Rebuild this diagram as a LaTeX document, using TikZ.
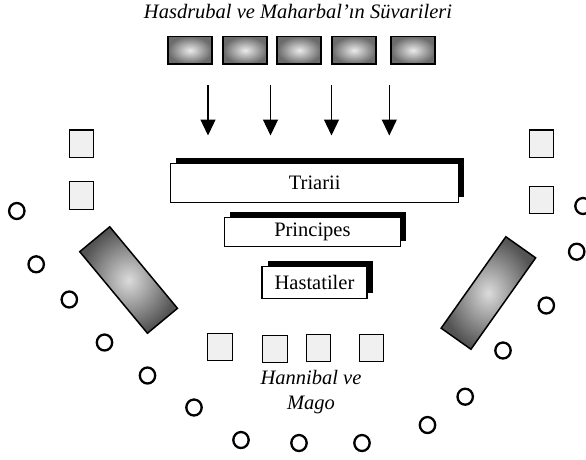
\documentclass[tikz,border=0pt]{standalone}
\usepackage{fontspec}
\setmainfont{Liberation Serif}
\usetikzlibrary{arrows.meta,shadows,shapes.geometric}
\definecolor{cavlight}{gray}{0.92}
\definecolor{cavdark}{gray}{0.42}
\definecolor{winglight}{gray}{0.86}
\definecolor{wingdark}{gray}{0.33}
\definecolor{sqgray}{gray}{0.94}
\newcommand{\bigtext}{\fontsize{20.5}{25}\selectfont}
\begin{document}
\begin{tikzpicture}[x=1pt,y=-1pt,
    every node/.style={font=\bigtext},
    cav/.style={draw,line width=1.8pt,inner sep=0pt,minimum width=44pt,
        minimum height=27.5pt,shading=radial,inner color=cavlight,outer color=cavdark},
    legion/.style={draw,fill=white,line width=1.3pt,inner sep=0pt,
        drop shadow={shadow xshift=5.5pt,shadow yshift=5.5pt,fill=black,opacity=1}},
    sq/.style={draw,fill=sqgray,line width=1.4pt,inner sep=0pt,
        minimum width=24.5pt,minimum height=27.5pt},
    ring/.style={draw,ellipse,line width=2.3pt,inner sep=0pt,
        minimum width=15.4pt,minimum height=16pt},
    wing/.style={draw,line width=1.5pt,inner sep=0pt,shading=radial,
        inner color=winglight,outer color=wingdark},
    arr/.style={line width=1.3pt,-{Triangle[width=15pt,length=16pt]}}]
    \useasboundingbox (0,0) rectangle (586,459);
    %% cavalry of Hasdrubal and Maharbal
    \node[anchor=base,font={\bigtext\itshape}] (title) at (298,18.3)
        {Hasdrubal ve Maharbal’ın Süvarileri};
    \foreach \x [count=\i] in {190,245.3,299.3,354.1,413}
        \node[cav] (cav\i) at (\x,50.3) {};
    %% charge arrows
    \foreach \x [count=\i] in {208,270.5,331.5,389.3} {
        \coordinate (from\i) at (\x,85);
        \coordinate (to\i) at (\x,135.5);
        \draw[arr] (from\i) -- (to\i);
    }
    %% roman lines
    \node[legion,minimum width=288pt,minimum height=39pt] (triarii) at (314.7,183) {Triarii};
    \node[legion,minimum width=176pt,minimum height=29pt] (principes) at (312.4,232.3) {Principes};
    \node[legion,minimum width=105pt,minimum height=32pt] (hastati) at (314.5,282.2) {Hastatiler};
    %% infantry squares
    \foreach \x/\y [count=\i] in {81.5/143.7,81.5/195.5,541.5/143.7,541.5/200,
        220/347,275/349,318.5/348,371.5/348}
        \node[sq] (sq\i) at (\x,\y) {};
    %% heavy infantry wings
    \node[wing,minimum width=106pt,minimum height=39pt,rotate=-50.3] (lwing) at (128.6,280) {};
    \node[wing,minimum width=112pt,minimum height=36.5pt,rotate=54.7] (rwing) at (488.4,293) {};
    %% Hannibal and Mago
    \node[font={\bigtext\itshape},align=center] (hannibal) at (311,392.5) {Hannibal ve\\Mago};
    %% light troops
    \foreach \x/\y [count=\i] in {16.8/211,36.2/264.3,69.3/299.5,104.5/342.5,
        147.5/375.5,194/407.5,241/440,299/443,362/443,427.5/425,465.2/396.7,
        503/350.5,546.3/305.5,576.7/251.7,583/206}
        \node[ring] (ring\i) at (\x,\y) {};
\end{tikzpicture}
\end{document}
